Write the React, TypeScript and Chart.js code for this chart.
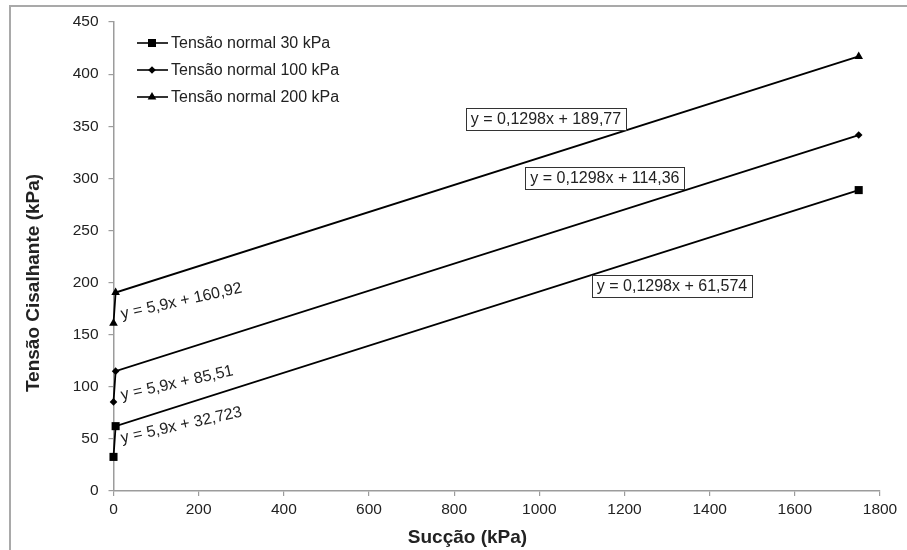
import { useEffect, useRef } from "react";
import { Chart, registerables } from "chart.js";

Chart.register(...registerables);

// Suction (kPa) at which shear strength was measured
const suction = [0, 5, 1750];
// Shear stress (kPa) for each normal stress
const tau30 = [32.72, 62.22, 288.72];
const tau100 = [85.51, 115.01, 341.51];
const tau200 = [160.92, 190.42, 416.92];

const seriesNames = ["Tensão normal 30 kPa", "Tensão normal 100 kPa", "Tensão normal 200 kPa"];
const pointStyles = ["rect", "rectRot", "triangle"];
const pointSizes = [5.7, 3.8, 5];

// Fitted equations: steep branch (low suction) and gentle branch
const steepFits = ["y = 5,9x + 32,723", "y = 5,9x + 85,51", "y = 5,9x + 160,92"];
const gentleFits = ["y = 0,1298x + 61,574", "y = 0,1298x + 114,36", "y = 0,1298x + 189,77"];

const xTitle = "Sucção (kPa)";
const yTitle = "Tensão Cisalhante (kPa)";

const FONT = "'Liberation Sans', Arial, sans-serif";
const TEXT = "#222222";
const AXIS = "#9c9c9c";

// label anchors in data units
const steepAnchors = [
  { x: 20, y: 46 },
  { x: 20, y: 87.3 },
  { x: 20, y: 165 },
];
const gentleAnchors = [
  { x: 1311.6, y: 196.7 },
  { x: 1154, y: 300.3 },
  { x: 1015.6, y: 356.9 },
];

function drawMarker(ctx: CanvasRenderingContext2D, style: string, x: number, y: number, r: number) {
  ctx.beginPath();
  if (style === "rect") {
    const s = Math.SQRT1_2 * r;
    ctx.rect(x - s, y - s, 2 * s, 2 * s);
  } else if (style === "rectRot") {
    ctx.moveTo(x, y - r);
    ctx.lineTo(x + r, y);
    ctx.lineTo(x, y + r);
    ctx.lineTo(x - r, y);
    ctx.closePath();
  } else {
    for (let i = 0; i < 3; i++) {
      const a = (i * 2 * Math.PI) / 3;
      const px = x + Math.sin(a) * r;
      const py = y - Math.cos(a) * r;
      if (i === 0) ctx.moveTo(px, py);
      else ctx.lineTo(px, py);
    }
    ctx.closePath();
  }
  ctx.fill();
}

const decorations = {
  id: "decorations",
  beforeDraw(chart: any) {
    const ctx = chart.ctx as CanvasRenderingContext2D;
    ctx.save();
    ctx.fillStyle = "#ffffff";
    ctx.fillRect(0, 0, chart.width, chart.height);
    ctx.strokeStyle = "#a9a9a9";
    ctx.lineWidth = 2;
    ctx.beginPath();
    ctx.moveTo(10, chart.height);
    ctx.lineTo(10, 6);
    ctx.lineTo(chart.width, 6);
    ctx.stroke();
    ctx.restore();
  },
  afterDraw(chart: any) {
    const ctx = chart.ctx as CanvasRenderingContext2D;
    const area = chart.chartArea;
    const xs = chart.scales.x;
    const ys = chart.scales.y;
    ctx.save();

    // legend
    ctx.font = `16px ${FONT}`;
    ctx.textBaseline = "middle";
    ctx.textAlign = "left";
    seriesNames.forEach((name, i) => {
      const y = area.top + 21 + i * 27;
      const x0 = area.left + 23.5;
      ctx.strokeStyle = "#000";
      ctx.lineWidth = 1.6;
      ctx.beginPath();
      ctx.moveTo(x0, y);
      ctx.lineTo(x0 + 31, y);
      ctx.stroke();
      ctx.fillStyle = "#000";
      drawMarker(ctx, pointStyles[i], x0 + 15, y, pointSizes[i]);
      ctx.fillStyle = TEXT;
      ctx.fillText(name, x0 + 34, y + 0.5);
    });

    // rotated equations along the steep branch
    ctx.font = `16px ${FONT}`;
    ctx.textBaseline = "alphabetic";
    steepFits.forEach((t, i) => {
      const px = xs.getPixelForValue(steepAnchors[i].x);
      const py = ys.getPixelForValue(steepAnchors[i].y);
      ctx.save();
      ctx.translate(px, py);
      ctx.rotate((-12.5 * Math.PI) / 180);
      ctx.fillStyle = TEXT;
      ctx.fillText(t, 0, 0);
      ctx.restore();
    });

    // boxed equations for the gentle branch
    ctx.textAlign = "center";
    ctx.textBaseline = "middle";
    gentleFits.forEach((t, i) => {
      const cx = xs.getPixelForValue(gentleAnchors[i].x);
      const cy = ys.getPixelForValue(gentleAnchors[i].y);
      const w = ctx.measureText(t).width + 10;
      const h = 22;
      ctx.fillStyle = "#ffffff";
      ctx.fillRect(cx - w / 2, cy - h / 2, w, h);
      ctx.strokeStyle = "#333333";
      ctx.lineWidth = 1;
      ctx.strokeRect(Math.round(cx - w / 2) + 0.5, Math.round(cy - h / 2) + 0.5, Math.round(w), h);
      ctx.fillStyle = TEXT;
      ctx.fillText(t, cx, cy + 1);
    });

    // axis titles
    ctx.font = `bold 19px ${FONT}`;
    ctx.fillStyle = TEXT;
    ctx.textAlign = "center";
    ctx.textBaseline = "alphabetic";
    ctx.fillText(xTitle, 467.5, 542.5);
    ctx.save();
    ctx.translate(39, 283);
    ctx.rotate(-Math.PI / 2);
    ctx.fillText(yTitle, 0, 0);
    ctx.restore();

    ctx.restore();
  },
};

function makeSeries(values: number[], i: number) {
  return {
    label: seriesNames[i],
    data: suction.map((x, k) => ({ x, y: values[k] })),
    borderColor: "#000000",
    backgroundColor: "#000000",
    borderWidth: 1.8,
    pointStyle: pointStyles[i],
    pointRadius: pointSizes[i],
    pointBorderWidth: 0,
    pointBackgroundColor: "#000000",
    tension: 0,
    showLine: true,
    fill: false,
    clip: false,
  };
}

export default function App() {
  const ref = useRef<HTMLCanvasElement>(null);

  useEffect(() => {
    if (!ref.current) return;
    const tickFont = { family: FONT, size: 15.5 };
    const chart = new Chart(ref.current, {
      type: "line",
      data: {
        datasets: [makeSeries(tau30, 0), makeSeries(tau100, 1), makeSeries(tau200, 2)],
      },
      options: {
        animation: false,
        responsive: false,
        devicePixelRatio: 1,
        layout: { padding: { left: 0, top: 22, right: 27, bottom: 0 } },
        plugins: {
          legend: { display: false },
          tooltip: { enabled: false },
        },
        scales: {
          x: {
            type: "linear",
            min: 0,
            max: 1800,
            ticks: {
              stepSize: 200,
              padding: 4,
              color: TEXT,
              font: tickFont,
              maxRotation: 0,
              callback: (v: any) => String(v),
            },
            grid: { drawOnChartArea: false, color: AXIS, tickLength: 5, lineWidth: 1.2 },
            border: { color: AXIS, width: 1.5 },
            afterFit: (s: any) => {
              s.height = 59;
            },
          },
          y: {
            type: "linear",
            min: 0,
            max: 450,
            ticks: {
              stepSize: 50,
              padding: 10,
              color: TEXT,
              font: tickFont,
              callback: (v: any) => String(v),
            },
            grid: { drawOnChartArea: false, color: AXIS, tickLength: 5, lineWidth: 1.2 },
            border: { color: AXIS, width: 1.5 },
            afterFit: (s: any) => {
              s.width = 113.5;
            },
          },
        },
      },
      plugins: [decorations],
    } as any);
    return () => chart.destroy();
  }, []);

  return (
    <div style={{ position: "fixed", left: 0, top: 0, width: 907, height: 550, background: "#fff" }}>
      <canvas ref={ref} width={907} height={550} style={{ display: "block" }} />
    </div>
  );
}
